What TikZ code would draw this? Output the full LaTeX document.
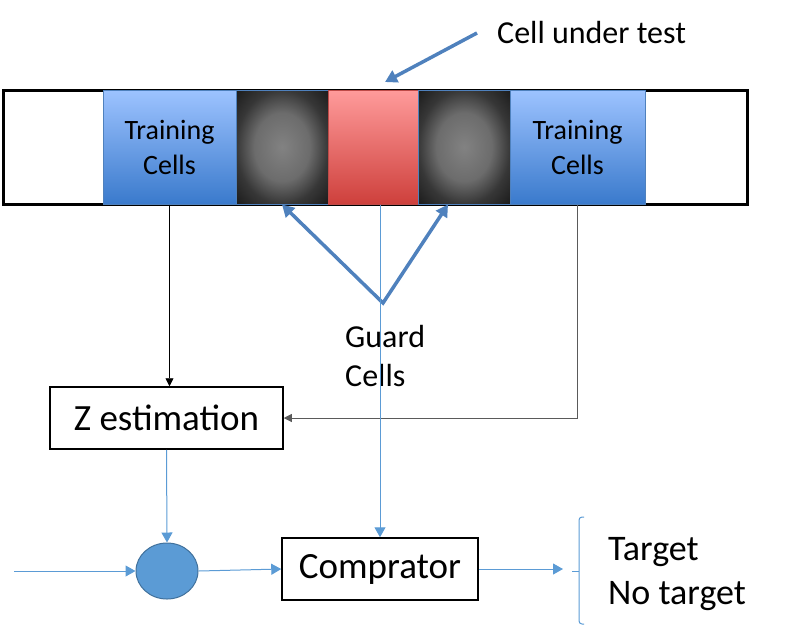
\documentclass[tikz,border=0pt]{standalone}
\usepackage{fontspec}
\setmainfont{Carlito}
\usetikzlibrary{shapes.geometric}
\usetikzlibrary{arrows.meta}
\definecolor{trainTop}{RGB}{157,195,255}
\definecolor{trainBottom}{RGB}{58,122,204}
\definecolor{cellEdge}{RGB}{79,129,189}
\definecolor{guardCenter}{RGB}{130,130,130}
\definecolor{guardMid}{RGB}{108,108,108}
\definecolor{guardEdge}{RGB}{55,55,55}
\definecolor{cutTop}{RGB}{255,155,155}
\definecolor{cutBottom}{RGB}{206,64,60}
\definecolor{cutEdge}{RGB}{190,75,72}
\definecolor{arrowBlue}{RGB}{79,129,189}
\definecolor{lineBlue}{RGB}{91,155,213}
\definecolor{sumFill}{RGB}{91,155,213}
\definecolor{sumEdge}{RGB}{65,113,156}
\definecolor{feedGray}{RGB}{90,90,90}
\pgfdeclareradialshading{guardGlow}{\pgfpoint{0bp}{0bp}}{color(0bp)=(guardCenter); color(15bp)=(guardMid); color(25bp)=(guardEdge); color(36bp)=(black!90); color(50bp)=(black)}

\begin{document}
\begin{tikzpicture}[x=1pt,y=-1pt,
  cell/.style={draw=cellEdge, line width=1pt, minimum height=114pt, inner sep=0pt},
  training/.style={cell, top color=trainTop, bottom color=trainBottom, align=center, font=\fontsize{28}{35}\selectfont},
  guard/.style={cell, shading=guardGlow},
  box/.style={draw=black, line width=1.5pt, minimum height=62pt, inner sep=0pt, font=\fontsize{37}{44}\selectfont},
  label/.style={anchor=west, inner sep=0pt, align=left},
  thin arrow/.style={draw=lineBlue, line width=1pt, >={Triangle[length=10pt,width=11pt]}, ->},
  black arrow/.style={draw=black, line width=0.8pt, >={Triangle[length=8pt,width=8pt]}, ->},
  thick arrow/.style={draw=arrowBlue, line width=3.5pt, >={Triangle[length=12pt,width=13pt]}, ->}
]
\useasboundingbox (0,0) rectangle (794,638);

\node[draw=black, line width=3pt, minimum width=744pt, minimum height=114pt, inner sep=0pt] (strip) at (375,147) {};
\node[training, minimum width=133pt] (trainL) at (169.5,147) {Training\\Cells};
\node[guard, minimum width=92pt] (guardL) at (282,147) {};
\node[cell, minimum width=90pt, top color=cutTop, bottom color=cutBottom, draw=cutEdge] (cut) at (373,147) {};
\node[guard, minimum width=92pt] (guardR) at (464,147) {};
\node[training, minimum width=135pt] (trainR) at (577.5,147) {Training\\Cells};

\node[label, font=\fontsize{32}{39}\selectfont] (cutLabel) at (497,33) {Cell under test};
\coordinate (cutTip) at (385,82);
\draw[thick arrow] ([xshift=-20pt]cutLabel.west) -- (cutTip);

\coordinate (guardApex) at (383,303);
\draw[thick arrow, <->, line join=miter] (guardL.south) -- (guardApex) -- ([xshift=-16pt]guardR.south);
\node[label, font=\fontsize{32}{39}\selectfont] (guardLabel) at (345,356) {Guard\\Cells};

\node[box, minimum width=233pt] (zest) at (166.5,418) {Z estimation};
\node[box, minimum width=196pt] (comp) at (380,569) {Comprator};
\node[ellipse, draw=sumEdge, fill=sumFill, line width=1pt, minimum width=62pt, minimum height=56pt, inner sep=0pt] (sum) at (167,571) {};
\coordinate (sigIn) at (14,571);
\coordinate (decision) at (563,569);

\draw[black arrow] (trainL.south) -- (trainL.south |- zest.north);
\draw[black arrow, draw=feedGray] (trainR.south) |- (zest.east);
\draw[thin arrow] (comp.north |- cut.south) -- (comp.north);
\draw[thin arrow] (zest.south) -- (sum.north);
\draw[thin arrow] (sigIn) -- (sum.west);
\draw[thin arrow] (sum.east) -- (comp.west);
\draw[thin arrow] (comp.east) -- (decision);

\draw[lineBlue, line width=1pt, rounded corners=3pt] (584,517) -| (579,624) -- (584,624);
\draw[lineBlue, line width=1pt] (579,571) -- (572,571);
\node[label, font=\fontsize{36}{44}\selectfont] (result) at (608,574) {Target\\No target};
\end{tikzpicture}
\end{document}
